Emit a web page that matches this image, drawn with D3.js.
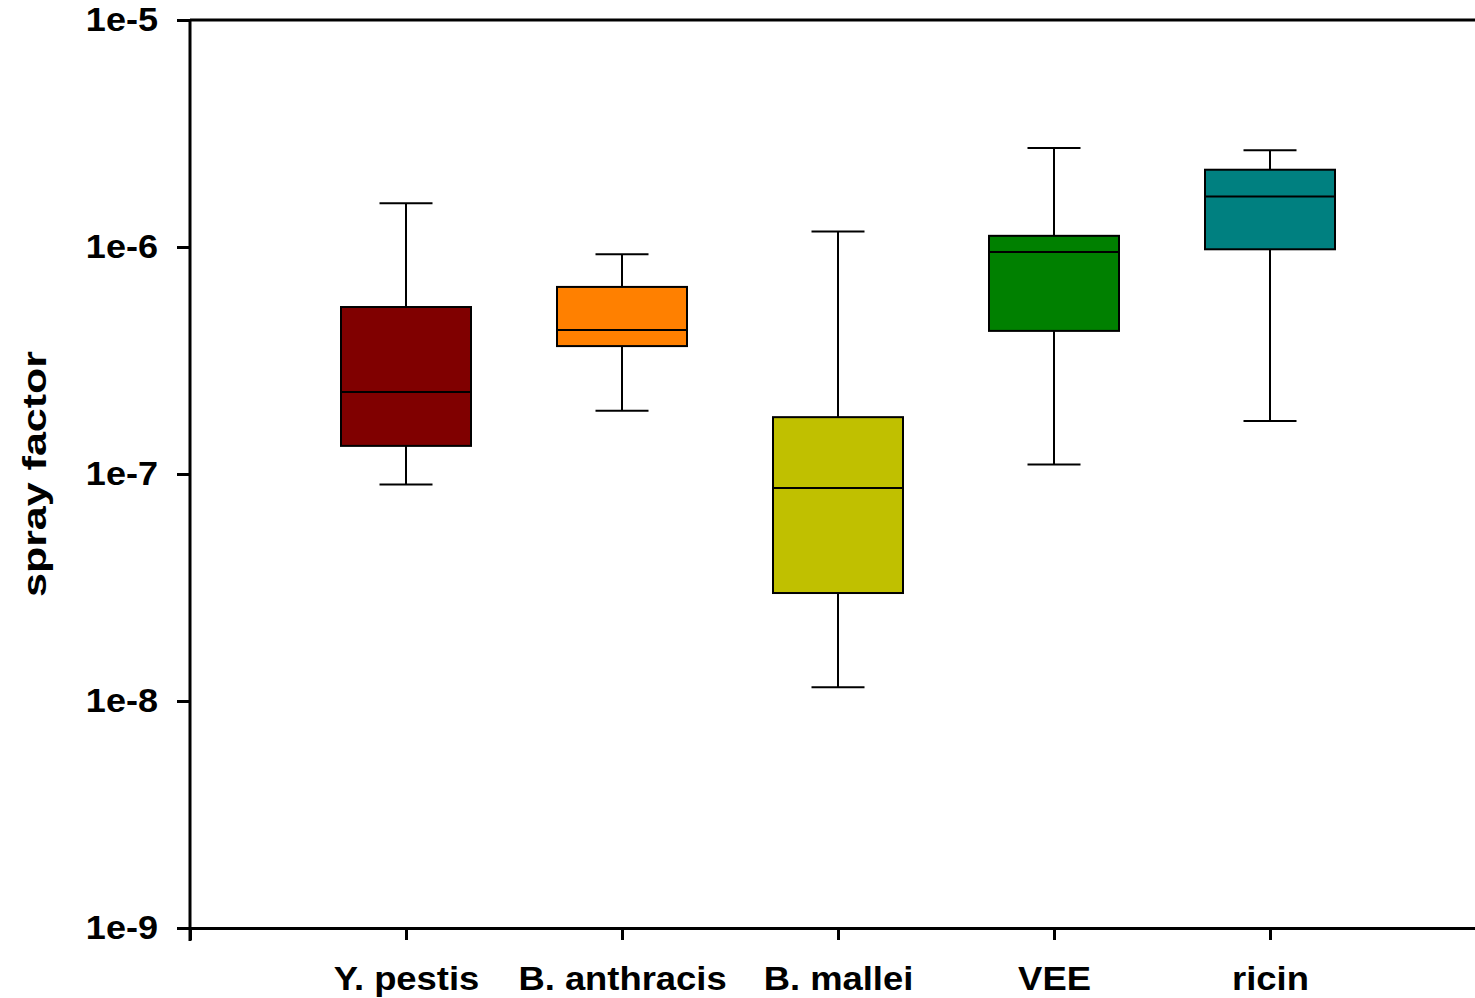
<!DOCTYPE html>
<html>
<head>
<meta charset="utf-8">
<script src="https://cdn.jsdelivr.net/npm/d3@7"></script>
<style>
  body { margin: 0; background: #fff; }
  svg text { font-family: "Liberation Sans", Arial, sans-serif; font-weight: bold; }
</style>
</head>
<body>
<div id="chart"></div>
<script>
// box plot data
const categories = ["Y. pestis", "B. anthracis", "B. mallei", "VEE", "ricin"];
const whiskerLow  = [9.0e-8, 1.9e-7, 1.15e-8, 1.10e-7, 1.71e-7];
const q1          = [1.33e-7, 3.66e-7, 2.99e-8, 4.27e-7, 9.77e-7];
const median      = [2.30e-7, 4.31e-7, 8.67e-8, 9.5e-7, 1.67e-6];
const q3          = [5.44e-7, 6.67e-7, 1.78e-7, 1.12e-6, 2.19e-6];
const whiskerHigh = [1.56e-6, 9.3e-7, 1.17e-6, 2.73e-6, 2.67e-6];
const colors = ["#800000", "#ff8000", "#c0c000", "#008000", "#008080"];
const yTicks = [1e-5, 1e-6, 1e-7, 1e-8, 1e-9];
const yTickLabels = ["1e-5", "1e-6", "1e-7", "1e-8", "1e-9"];

const W = 1475, H = 998;
const margin = {top: 20, left: 190, bottom: 70};

const svg = d3.select("#chart").append("svg")
    .attr("width", W).attr("height", H);

const x = d3.scaleLinear()
    .domain([0, categories.length + 1])
    .range([margin.left, margin.left + 216 * (categories.length + 1)]);

const y = d3.scaleLog()
    .domain([1e-9, 1e-5])
    .range([H - margin.bottom, margin.top]);

const data = categories.map((c, i) => ({
    name: c, lo: whiskerLow[i], q1: q1[i], med: median[i], q3: q3[i], hi: whiskerHigh[i], color: colors[i], pos: i + 1
}));

const boxW = 130, capW = 53;

const boxes = svg.append("g").selectAll("g").data(data).enter().append("g");

// whiskers
boxes.append("line")
    .attr("x1", d => x(d.pos)).attr("x2", d => x(d.pos))
    .attr("y1", d => y(d.hi)).attr("y2", d => y(d.q3))
    .attr("stroke", "#000").attr("stroke-width", 2);
boxes.append("line")
    .attr("x1", d => x(d.pos)).attr("x2", d => x(d.pos))
    .attr("y1", d => y(d.q1)).attr("y2", d => y(d.lo))
    .attr("stroke", "#000").attr("stroke-width", 2);
boxes.append("line")
    .attr("x1", d => x(d.pos) - capW / 2).attr("x2", d => x(d.pos) + capW / 2)
    .attr("y1", d => y(d.hi)).attr("y2", d => y(d.hi))
    .attr("stroke", "#000").attr("stroke-width", 2);
boxes.append("line")
    .attr("x1", d => x(d.pos) - capW / 2).attr("x2", d => x(d.pos) + capW / 2)
    .attr("y1", d => y(d.lo)).attr("y2", d => y(d.lo))
    .attr("stroke", "#000").attr("stroke-width", 2);

// boxes
boxes.append("rect")
    .attr("x", d => x(d.pos) - boxW / 2)
    .attr("y", d => y(d.q3))
    .attr("width", boxW)
    .attr("height", d => y(d.q1) - y(d.q3))
    .attr("fill", d => d.color)
    .attr("stroke", "#000").attr("stroke-width", 2);
boxes.append("line")
    .attr("x1", d => x(d.pos) - boxW / 2).attr("x2", d => x(d.pos) + boxW / 2)
    .attr("y1", d => y(d.med)).attr("y2", d => y(d.med))
    .attr("stroke", "#000").attr("stroke-width", 2);

// top frame line
svg.append("line")
    .attr("x1", margin.left).attr("x2", W)
    .attr("y1", y(1e-5)).attr("y2", y(1e-5))
    .attr("stroke", "#000").attr("stroke-width", 3);

// the original font is a little wider than Liberation Sans
function widen(sel, f) {
    sel.each(function() {
        const len = this.getComputedTextLength();
        if (len > 0) d3.select(this).attr("textLength", len * f).attr("lengthAdjust", "spacingAndGlyphs");
    });
}

// y axis
const yAxis = d3.axisLeft(y)
    .tickValues(yTicks)
    .tickFormat((d, i) => yTickLabels[i])
    .tickSize(13).tickPadding(19);
const gy = svg.append("g")
    .attr("transform", `translate(${margin.left},0)`)
    .call(yAxis);
gy.select(".domain").attr("stroke-width", 3).attr("d", `M0,${y(1e-5)}V${y(1e-9) + 13}`);
gy.selectAll(".tick line").attr("stroke-width", 3);
gy.selectAll(".tick text").attr("font-size", 34).attr("fill", "#000").call(widen, 1.06);

// x axis
const xAxis = d3.axisBottom(x)
    .tickValues(d3.range(0, categories.length + 1))
    .tickFormat(d => d === 0 ? "" : categories[d - 1])
    .tickSize(12).tickSizeOuter(0).tickPadding(26);
const gx = svg.append("g")
    .attr("transform", `translate(0,${y(1e-9)})`)
    .call(xAxis);
gx.select(".domain").attr("stroke-width", 3);
gx.selectAll(".tick line").attr("stroke-width", 3);
gx.selectAll(".tick text").attr("font-size", 34).attr("fill", "#000").call(widen, 1.07);

// y title
svg.append("text")
    .attr("transform", `translate(46,${(y(1e-5) + y(1e-9)) / 2}) rotate(-90)`)
    .attr("text-anchor", "middle")
    .attr("font-size", 34)
    .attr("textLength", 246)
    .attr("lengthAdjust", "spacingAndGlyphs")
    .text("spray factor");
</script>
</body>
</html>
